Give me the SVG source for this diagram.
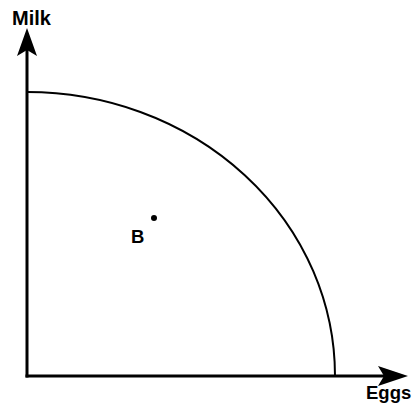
<svg xmlns="http://www.w3.org/2000/svg" width="416" height="408" viewBox="0 0 416 408">
<style>
.lbl{font-family:"Liberation Sans",Arial,sans-serif;font-weight:bold;font-size:18.5px;fill:#000}
.ax{stroke:#000;stroke-width:3;fill:none}
</style>
<rect width="416" height="408" fill="#fff"/>
<g id="connectors">
<line class="ax" x1="27" y1="377.5" x2="27" y2="45"/>
<line class="ax" x1="25.5" y1="376" x2="395" y2="376"/>
<path d="M27 28 L37 56 L27 50 L17 56 Z" fill="#000"/>
<path d="M408 376 L378 366 L384 376 L378 386 Z" fill="#000"/>
</g>
<g id="curve">
<path d="M27 92 A308 284 0 0 1 335 376" fill="none" stroke="#000" stroke-width="2"/>
</g>
<g id="milk"><text class="lbl" x="12" y="25" style="font-size:20px">Milk</text></g>
<g id="eggs"><text class="lbl" x="366" y="399">Eggs</text></g>
<g id="pointB">
<circle cx="154" cy="218" r="3" fill="#000"/>
<text class="lbl" x="131" y="243">B</text>
</g>
</svg>
